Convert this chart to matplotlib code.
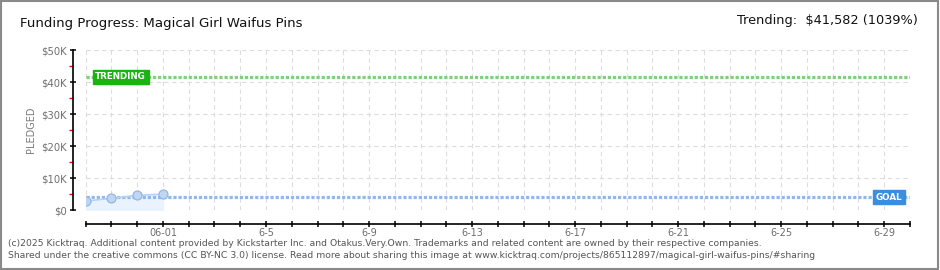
import numpy as np
import matplotlib
matplotlib.use('Agg')
import matplotlib.pyplot as plt
import matplotlib.dates as mdates
from matplotlib.ticker import MultipleLocator, FuncFormatter
from datetime import datetime

# data
dates = ['2025-05-29', '2025-05-30', '2025-05-31', '2025-06-01']
pledged = [2800, 3650, 4600, 4950]
goal = 4000
trending = 41582
trend_pct = 1039
x_start = '2025-05-29'
x_end = '2025-06-30'
label_days = ['2025-06-01', '2025-06-05', '2025-06-09', '2025-06-13',
              '2025-06-17', '2025-06-21', '2025-06-25', '2025-06-29']
label_text = ['06-01', '6-5', '6-9', '6-13', '6-17', '6-21', '6-25', '6-29']

title = 'Funding Progress: Magical Girl Waifus Pins'
footer1 = ('(c)2025 Kicktraq. Additional content provided by Kickstarter Inc. and Otakus.Very.Own. '
           'Trademarks and related content are owned by their respective companies.')
footer2 = ('Shared under the creative commons (CC BY-NC 3.0) license. Read more about sharing this image at '
           'www.kicktraq.com/projects/865112897/magical-girl-waifus-pins/#sharing')

d = [datetime.strptime(s, '%Y-%m-%d') for s in dates]
x0 = datetime.strptime(x_start, '%Y-%m-%d')
x1 = datetime.strptime(x_end, '%Y-%m-%d')

W, H = 940, 270
fig = plt.figure(figsize=(W / 100, H / 100), dpi=100)
fig.patch.set_facecolor('white')

# frame around figure
fig.add_artist(plt.Rectangle((0.001, 0.002), 0.997, 0.995, transform=fig.transFigure,
                             fill=False, edgecolor='#8a8a8a', linewidth=1.5))

ax = fig.add_axes([85.7 / W, (H - 210) / H, (910 - 85.7) / W, 160 / H])
ax.set_xlim(x0, x1)
ax.set_ylim(0, 50000)

# grid
ax.yaxis.set_major_locator(MultipleLocator(10000))
ax.yaxis.set_minor_locator(MultipleLocator(5000))
ax.xaxis.set_major_locator(mdates.DayLocator())
ax.grid(True, which='major', color='#dddddd', linestyle=(0, (4, 3)), linewidth=0.8)
ax.set_axisbelow(True)

# spines
for s in ['top', 'right']:
    ax.spines[s].set_visible(False)
ax.spines['left'].set_position(('outward', 9))
ax.spines['bottom'].set_position(('outward', 10))
ax.spines['left'].set_linewidth(1.2)
ax.spines['bottom'].set_linewidth(1.2)

ax.tick_params(axis='both', which='major', direction='inout', length=5, width=1.1,
               color='black', labelsize=7.2, labelcolor='#6e6e6e')
ax.tick_params(axis='y', which='minor', direction='out', length=3, width=1, color='red')
ax.tick_params(axis='y', which='major', pad=2)
ax.yaxis.set_major_formatter(FuncFormatter(lambda v, p: '$0' if v == 0 else '$%dK' % (v / 1000)))

lab_d = [datetime.strptime(s, '%Y-%m-%d') for s in label_days]
lab_num = [mdates.date2num(v) for v in lab_d]
def xfmt(v, p):
    for n, t in zip(lab_num, label_text):
        if abs(v - n) < 0.01:
            return t
    return ''
ax.xaxis.set_major_formatter(FuncFormatter(xfmt))
ax.tick_params(axis='x', pad=0.5, labelsize=7)

ax.set_ylabel('PLEDGED', fontsize=7, color='#7a7a7a', labelpad=4)

# pledged
ax.fill_between(d, pledged, 0, color='#eaf3fd', zorder=1)
ax.plot(d, pledged, color='#b7d3f2', linewidth=1.2, zorder=3)
ax.plot(d, pledged, 'o', markersize=6.5, markerfacecolor='#bcd6f3', markeredgecolor='#8fb4e0',
        markeredgewidth=0.8, zorder=4)

# goal and trending lines
ax.plot([x0, x1], [goal, goal], color='#8dbaec', linewidth=2.3, linestyle=(0, (1, 0.6)), zorder=2)
ax.plot([x0, x1], [trending, trending], color='#80d078', linewidth=2.3, linestyle=(0, (1, 0.6)), zorder=2)

ax.text(0.0115, trending, 'TRENDING', transform=ax.get_yaxis_transform(), fontsize=6.3,
        color='white', fontweight='bold', va='center', ha='left', zorder=6,
        bbox=dict(boxstyle='square,pad=0.3', facecolor='#19b312', edgecolor='#19b312'))
ax.text(0.9585, goal, 'GOAL', transform=ax.get_yaxis_transform(), fontsize=6.3,
        color='white', fontweight='bold', va='center', ha='left', zorder=6,
        bbox=dict(boxstyle='square,pad=0.3', facecolor='#3a8ee0', edgecolor='#3a8ee0'))

# header
fig.text(20 / W, 1 - 23 / H, title, fontsize=9.6, color='#111111', va='center', ha='left')
fig.text(918 / W, 1 - 21 / H, 'Trending:  $%s (%d%%)' % (format(trending, ','), trend_pct),
         fontsize=9.3, color='#111111', va='center', ha='right')

# footer
fig.text(8 / W, 1 - 243 / H, footer1, fontsize=6.65, color='#555555', va='center', ha='left')
fig.text(8 / W, 1 - 256 / H, footer2, fontsize=6.65, color='#555555', va='center', ha='left')

fig.savefig('out.png', dpi=100)
